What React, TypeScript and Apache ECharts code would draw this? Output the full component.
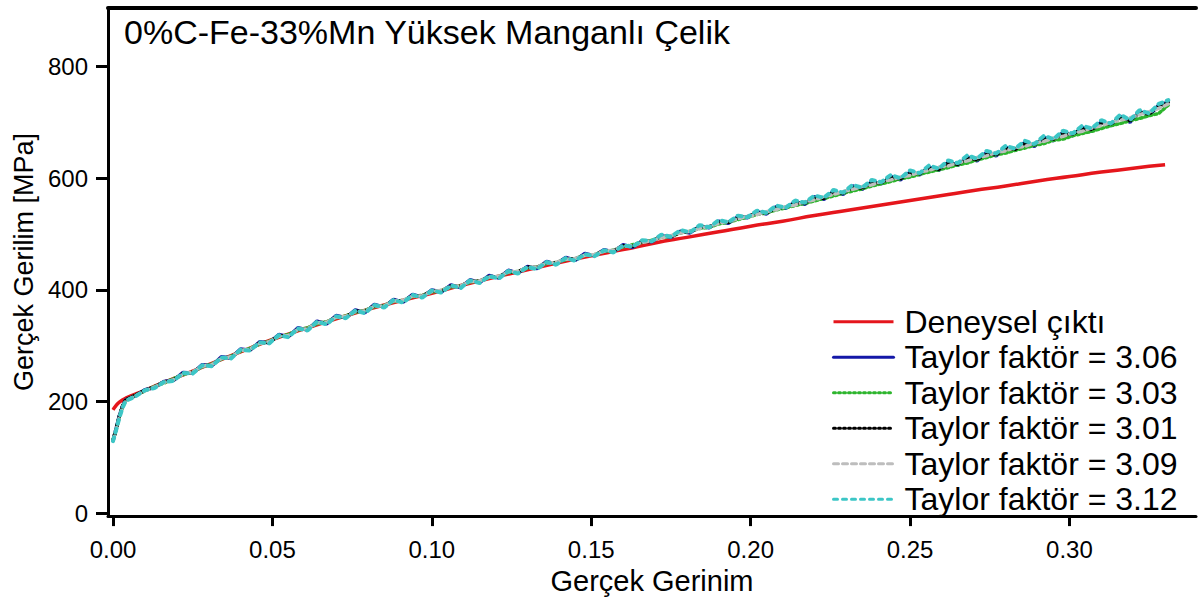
import React, { useEffect, useRef } from "react";
import * as echarts from "echarts";

const chartTitle = "0%C-Fe-33%Mn Yüksek Manganlı Çelik";
const xAxisName = "Gerçek Gerinim";
const yAxisName = "Gerçek Gerilim [MPa]";
const xTicks = [0, 0.05, 0.1, 0.15, 0.2, 0.25, 0.3];
const yTicks = [0, 200, 400, 600, 800];

const seriesNames = [
  "Deneysel çıktı",
  "Taylor faktör = 3.06",
  "Taylor faktör = 3.03",
  "Taylor faktör = 3.01",
  "Taylor faktör = 3.09",
  "Taylor faktör = 3.12",
];

// experimental curve
const expStrain = [
  0, 0.001, 0.002, 0.004, 0.007, 0.01, 0.015, 0.02, 0.03, 0.04,
  0.05, 0.06, 0.07, 0.08, 0.09, 0.1, 0.11, 0.12, 0.13, 0.14,
  0.15, 0.16, 0.17, 0.18, 0.19, 0.2, 0.21, 0.22, 0.23, 0.24,
  0.25, 0.26, 0.27, 0.28, 0.29, 0.3, 0.31, 0.32, 0.33,
];
const expStress = [
  185, 193, 199, 206, 213, 220, 232, 243, 266, 289,
  311, 330, 348, 365, 380, 394, 409, 423, 436, 449,
  461, 472, 484, 494, 504, 514, 523, 533, 542, 551,
  560, 569, 578, 586, 595, 603, 611, 618, 624,
];

// simulation strain points
const simStrain = [
  0, 0.001, 0.002, 0.003, 0.004,
  0.007, 0.01, 0.013, 0.016, 0.019, 0.022, 0.025, 0.028, 0.031, 0.034,
  0.037, 0.04, 0.043, 0.046, 0.049, 0.052, 0.055, 0.058, 0.061, 0.064,
  0.067, 0.07, 0.073, 0.076, 0.079, 0.082, 0.085, 0.088, 0.091, 0.094,
  0.097, 0.1, 0.103, 0.106, 0.109, 0.112, 0.115, 0.118, 0.121, 0.124,
  0.127, 0.13, 0.133, 0.136, 0.139, 0.142, 0.145, 0.148, 0.151, 0.154,
  0.157, 0.16, 0.163, 0.166, 0.169, 0.172, 0.175, 0.178, 0.181, 0.184,
  0.187, 0.19, 0.193, 0.196, 0.199, 0.202, 0.205, 0.208, 0.211, 0.214,
  0.217, 0.22, 0.223, 0.226, 0.229, 0.232, 0.235, 0.238, 0.241, 0.244,
  0.247, 0.25, 0.253, 0.256, 0.259, 0.262, 0.265, 0.268, 0.271, 0.274,
  0.277, 0.28, 0.283, 0.286, 0.289, 0.292, 0.295, 0.298, 0.301, 0.304,
  0.307, 0.31, 0.313, 0.316, 0.319, 0.322, 0.325, 0.328, 0.331,
];

const taylor306 = [
  130, 152, 175, 192, 203,
  210, 221, 225, 236, 238, 252, 251, 266, 264, 280,
  278, 294, 292, 307, 305, 320, 316, 332, 328, 344,
  339, 354, 350, 364, 359, 374, 369, 383, 378, 392,
  387, 400, 396, 409, 404, 418, 413, 426, 421, 435,
  430, 442, 438, 451, 446, 458, 453, 465, 461, 472,
  468, 481, 476, 488, 486, 497, 494, 505, 502, 514,
  511, 523, 519, 531, 529, 540, 536, 549, 546, 558,
  553, 567, 562, 577, 571, 586, 580, 594, 590, 603,
  597, 611, 606, 620, 614, 629, 623, 638, 631, 646,
  640, 655, 650, 664, 657, 673, 667, 682, 676, 691,
  684, 701, 694, 711, 700, 720, 712, 731, 736,
];
const taylor303 = [
  131, 150, 173, 191, 202,
  211, 219, 227, 233, 241, 248, 253, 262, 267, 276,
  281, 290, 295, 303, 308, 316, 320, 328, 332, 339,
  343, 350, 353, 360, 363, 370, 372, 379, 381, 388,
  390, 396, 399, 405, 407, 414, 416, 422, 424, 431,
  433, 439, 441, 447, 449, 454, 456, 462, 463, 469,
  471, 477, 481, 485, 489, 494, 496, 502, 505, 510,
  512, 518, 521, 526, 530, 535, 538, 543, 547, 551,
  555, 559, 564, 568, 573, 577, 581, 586, 590, 594,
  599, 602, 607, 611, 615, 619, 624, 627, 633, 637,
  642, 645, 650, 654, 659, 662, 668, 670, 676, 680,
  684, 689, 694, 698, 703, 707, 712, 716, 731,
];
const taylor301 = [
  130, 151, 174, 192, 203,
  211, 220, 226, 235, 239, 250, 252, 264, 265, 278,
  279, 292, 293, 305, 306, 318, 317, 330, 329, 342,
  341, 352, 351, 362, 361, 372, 370, 381, 380, 390,
  389, 398, 398, 407, 406, 416, 415, 424, 423, 433,
  432, 441, 440, 449, 448, 456, 455, 463, 462, 470,
  470, 479, 478, 486, 487, 496, 496, 503, 504, 512,
  513, 521, 521, 529, 531, 538, 538, 547, 548, 556,
  555, 565, 564, 575, 573, 584, 582, 592, 592, 601,
  599, 609, 608, 618, 616, 627, 625, 636, 633, 644,
  642, 653, 652, 662, 660, 671, 670, 680, 679, 689,
  687, 699, 697, 709, 703, 718, 715, 729, 735,
];
const taylor309 = [
  129, 150, 172, 190, 201,
  210, 219, 226, 234, 239, 249, 253, 263, 266, 277,
  280, 291, 294, 304, 307, 317, 318, 329, 330, 341,
  342, 351, 352, 361, 362, 371, 371, 380, 381, 389,
  389, 397, 399, 406, 407, 415, 416, 423, 424, 432,
  433, 440, 441, 448, 449, 455, 456, 462, 463, 469,
  471, 478, 479, 485, 488, 494, 497, 502, 505, 510,
  514, 519, 523, 527, 532, 535, 540, 544, 549, 552,
  558, 561, 567, 571, 576, 580, 585, 588, 594, 597,
  602, 605, 611, 614, 620, 622, 628, 631, 637, 640,
  646, 649, 655, 657, 663, 666, 672, 675, 681, 684,
  690, 694, 700, 704, 708, 714, 719, 725, 733,
];
const taylor312 = [
  129, 149, 171, 189, 201,
  209, 220, 224, 235, 237, 251, 250, 265, 263, 279,
  277, 293, 291, 306, 304, 319, 315, 331, 327, 343,
  338, 353, 349, 363, 358, 373, 368, 382, 377, 391,
  386, 399, 395, 408, 403, 417, 412, 425, 420, 434,
  429, 441, 437, 450, 445, 457, 452, 464, 460, 471,
  467, 480, 477, 489, 487, 499, 495, 507, 503, 516,
  512, 525, 521, 533, 530, 542, 538, 551, 547, 560,
  556, 569, 565, 579, 574, 588, 583, 597, 593, 606,
  600, 614, 609, 623, 617, 632, 627, 641, 635, 649,
  644, 658, 653, 667, 661, 676, 670, 685, 680, 694,
  689, 704, 698, 714, 704, 722, 716, 733, 740,
];

const FONT = "Liberation Sans, Arial, sans-serif";

function zip(xs: number[], ys: number[]) {
  const n = Math.min(xs.length, ys.length);
  const out: number[][] = [];
  for (let i = 0; i < n; i++) out.push([xs[i], ys[i]]);
  return out;
}

export default function App() {
  const ref = useRef<HTMLDivElement>(null);
  useEffect(() => {
    document.body.style.margin = "0";
    const chart = echarts.init(ref.current!, undefined, { renderer: "svg" });
    const simStyles = [
      { color: "#1418a8", type: "solid", width: 3.5 },
      { color: "#2db52d", type: [2, 3], width: 3.5 },
      { color: "#000000", type: [2, 3], width: 3.5 },
      { color: "#bdbdbd", type: [5, 4], width: 3.5 },
      { color: "#3cc6c6", type: [4, 5], width: 4 },
    ];
    const simData = [taylor306, taylor303, taylor301, taylor309, taylor312];
    const series: any[] = [
      {
        name: seriesNames[0],
        type: "line",
        data: zip(expStrain, expStress),
        symbol: "none",
        smooth: true,
        lineStyle: { color: "#e5161c", width: 3.5 },
        itemStyle: { color: "#e5161c" },
      },
    ];
    simData.forEach((d, i) => {
      series.push({
        name: seriesNames[i + 1],
        type: "line",
        data: zip(simStrain, d),
        symbol: "none",
        lineStyle: {
          color: simStyles[i].color,
          width: simStyles[i].width,
          type: simStyles[i].type,
          cap: "round",
        },
        itemStyle: { color: simStyles[i].color },
      });
    });

    chart.setOption({
      animation: false,
      backgroundColor: "#ffffff",
      title: {
        text: chartTitle,
        left: 124,
        top: 15,
        padding: 0,
        textStyle: { fontFamily: FONT, fontSize: 34, fontWeight: "normal", color: "#000" },
      },
      legend: {
        orient: "vertical",
        left: 832,
        top: 304,
        itemWidth: 60,
        itemHeight: 14,
        itemGap: 0,
        padding: 0,
        itemStyle: { opacity: 0 },
        lineStyle: { width: 3 },
        textStyle: {
          fontFamily: FONT,
          fontSize: 32,
          color: "#000",
          lineHeight: 35.5,
          padding: [0, 0, 0, 6],
        },
        data: seriesNames,
      },
      grid: { left: 108, right: 3, top: 8, bottom: 80, containLabel: false },
      xAxis: [
        {
          type: "value",
          min: -0.00157,
          max: 0.3397,
          name: xAxisName,
          nameLocation: "middle",
          nameGap: 40,
          nameTextStyle: { fontFamily: FONT, fontSize: 29, color: "#000" },
          axisLine: { onZero: false, lineStyle: { color: "#000", width: 3 } },
          axisTick: {
            show: true,
            length: 10,
            lineStyle: { color: "#000", width: 3 },
            customValues: xTicks,
          },
          axisLabel: {
            customValues: xTicks,
            formatter: (v: number) => v.toFixed(2),
            margin: 21,
            fontFamily: FONT,
            fontSize: 24,
            color: "#000",
          },
          splitLine: { show: false },
        },
        {
          type: "value",
          position: "top",
          min: -0.00157,
          max: 0.3397,
          axisLine: { onZero: false, lineStyle: { color: "#000", width: 4 } },
          axisTick: { show: false },
          axisLabel: { show: false },
          splitLine: { show: false },
        },
      ],
      yAxis: {
        type: "value",
        min: -5.33,
        max: 904.9,
        name: yAxisName,
        nameLocation: "middle",
        nameGap: 70,
        nameTextStyle: { fontFamily: FONT, fontSize: 27, color: "#000" },
        axisLine: { show: true, onZero: false, lineStyle: { color: "#000", width: 3 } },
        axisTick: {
          show: true,
          length: 12,
          lineStyle: { color: "#000", width: 3 },
          customValues: yTicks,
        },
        axisLabel: {
          customValues: yTicks,
          margin: 20,
          fontFamily: FONT,
          fontSize: 24,
          color: "#000",
        },
        splitLine: { show: false },
      },
      series,
    });
    return () => chart.dispose();
  }, []);
  return (
    <div
      ref={ref}
      style={{ position: "absolute", left: 0, top: 0, width: 1199, height: 600 }}
    />
  );
}
